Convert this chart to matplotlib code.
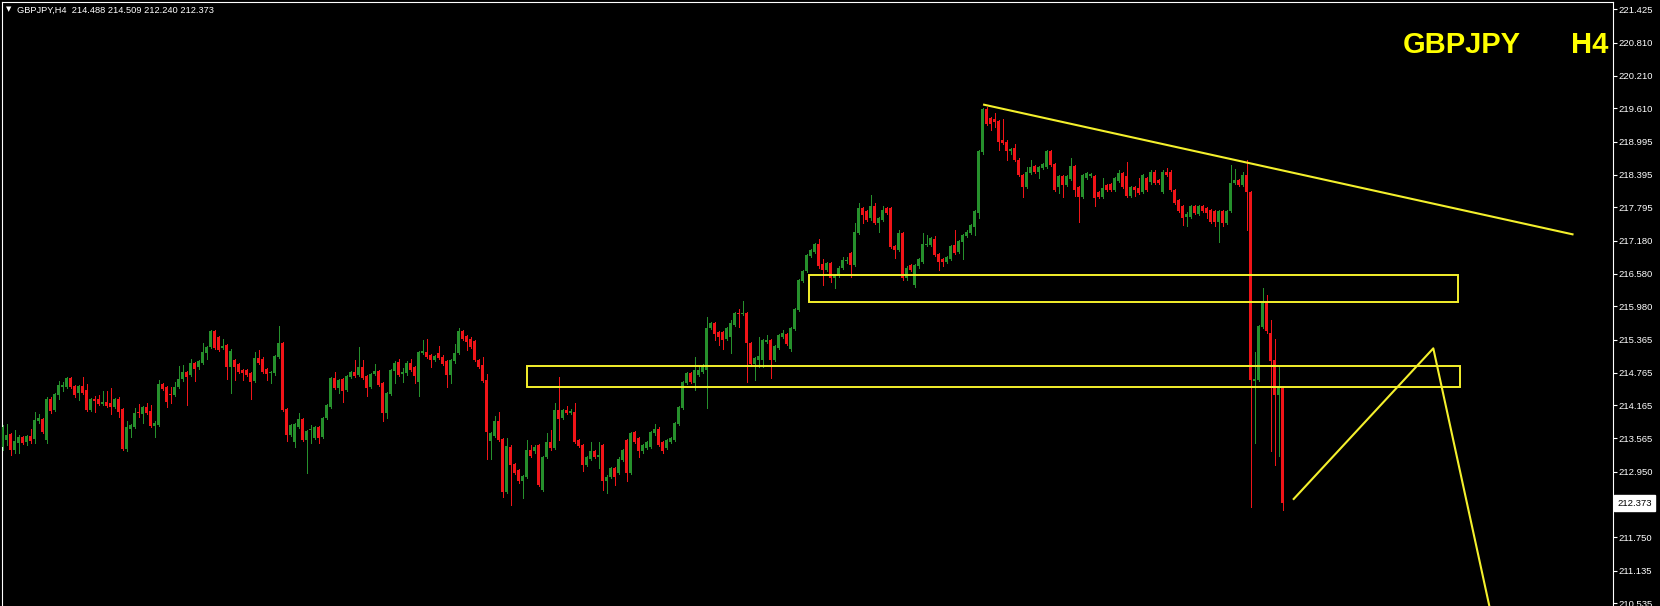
#!/usr/bin/env python3

""" plot.py - MT4 style GBPJPY H4 candle chart with two zones and trend lines """

import numpy as np
import matplotlib
matplotlib.use('Agg')
from matplotlib import pyplot as plt
from matplotlib.patches import Rectangle

symbol = 'GBPJPY'
period = 'H4'

# OHLC, bar 0 = oldest bar on screen, last = current bar
opens = [
    213.41, 213.53, 213.64, 213.35, 213.47, 213.59, 213.50, 213.60, 213.55, 213.87,
    213.91, 213.53, 214.29, 214.08, 214.36, 214.51, 214.51, 214.66, 214.52, 214.39,
    214.52, 214.45, 214.08, 214.28, 214.28, 214.19, 214.23, 214.20, 214.14, 214.29,
    214.09, 213.36, 213.74, 213.77, 214.05, 214.01, 214.13, 214.07, 213.79, 213.81,
    214.56, 214.50, 214.37, 214.36, 214.50, 214.64, 214.78, 214.72, 214.94, 214.86,
    214.95, 215.12, 215.23, 215.52, 215.42, 215.21, 215.27, 214.86, 215.00, 214.92,
    214.82, 214.81, 214.75, 214.62, 215.03, 215.01, 214.83, 214.75, 214.75, 215.06,
    215.30, 214.09, 213.62, 213.50, 213.77, 213.91, 213.53, 213.71, 213.56, 213.76,
    213.58, 213.93, 214.14, 214.66, 214.48, 214.64, 214.45, 214.69, 214.78, 214.72,
    214.87, 214.70, 214.50, 214.74, 214.80, 214.57, 214.03, 214.37, 214.79, 214.96,
    214.74, 214.75, 214.95, 214.86, 214.60, 215.12, 215.15, 215.09, 214.99, 215.12,
    215.06, 214.97, 214.72, 214.97, 215.12, 215.53, 215.44, 215.39, 215.35, 215.00,
    214.90, 214.63, 213.52, 213.60, 213.87, 213.54, 212.58, 213.41, 213.09, 212.98,
    212.77, 212.86, 213.35, 213.32, 213.44, 212.61, 213.22, 213.50, 213.38, 214.08,
    213.93, 214.08, 214.03, 214.05, 213.53, 213.44, 213.07, 213.19, 213.32, 213.22,
    213.44, 212.77, 212.86, 213.01, 212.92, 213.16, 213.53, 212.92, 213.68, 213.56,
    213.32, 213.38, 213.41, 213.65, 213.74, 213.50, 213.38, 213.50, 213.53, 213.82,
    214.11, 214.58, 214.75, 214.57, 214.72, 214.78, 214.81, 215.58, 215.67, 215.51,
    215.51, 215.39, 215.42, 215.64, 215.86, 215.84, 215.86, 215.30, 214.92, 215.00,
    215.00, 215.33, 215.36, 215.00, 215.21, 215.42, 215.47, 215.19, 215.56, 215.91,
    216.45, 216.62, 216.90, 216.98, 217.12, 216.76, 216.65, 216.78, 216.49, 216.53,
    216.68, 216.81, 216.96, 216.74, 217.32, 217.78, 217.72, 217.59, 217.81, 217.50,
    217.56, 217.78, 217.78, 217.09, 217.01, 217.32, 216.49, 216.74, 216.37, 216.71,
    216.80, 217.10, 217.10, 217.21, 216.94, 216.84, 216.80, 216.84, 217.10, 216.98,
    217.16, 217.27, 217.32, 217.44, 217.69, 218.80, 219.59, 219.43, 219.42, 219.37,
    219.03, 219.00, 218.82, 218.88, 218.67, 218.39, 218.17, 218.42, 218.55, 218.45,
    218.51, 218.54, 218.82, 218.59, 218.17, 218.37, 218.20, 218.31, 218.55, 218.17,
    217.99, 218.34, 218.37, 218.37, 218.08, 217.99, 218.20, 218.22, 218.11, 218.28,
    218.42, 218.36, 218.00, 218.17, 218.14, 218.08, 218.33, 218.25, 218.45, 218.30,
    218.08, 218.45, 218.45, 218.11, 217.93, 217.81, 217.62, 217.62, 217.81, 217.67,
    217.81, 217.78, 217.75, 217.73, 217.53, 217.73, 217.50, 217.72, 218.24, 218.30,
    218.20, 218.39, 218.08, 214.62, 214.63, 215.61, 216.04, 215.50, 214.99, 214.35,
    214.488]

highs = [
    213.81, 213.82, 213.66, 213.71, 213.62, 213.61, 213.63, 213.73, 214.05, 214.01,
    213.94, 214.31, 214.31, 214.39, 214.62, 214.60, 214.68, 214.68, 214.54, 214.54,
    214.68, 214.56, 214.30, 214.34, 214.36, 214.42, 214.42, 214.48, 214.30, 214.31,
    214.11, 213.87, 213.82, 214.11, 214.19, 214.15, 214.20, 214.17, 213.87, 214.63,
    214.58, 214.52, 214.51, 214.60, 214.89, 214.91, 214.80, 215.01, 214.96, 214.99,
    215.31, 215.26, 215.54, 215.54, 215.44, 215.38, 215.29, 215.19, 215.02, 214.94,
    214.84, 214.83, 214.77, 215.15, 215.18, 215.06, 214.85, 214.80, 215.09, 215.62,
    215.32, 214.11, 213.82, 213.84, 214.02, 213.93, 213.72, 213.80, 213.78, 213.78,
    213.95, 214.19, 214.68, 214.78, 214.65, 214.66, 214.72, 214.80, 214.99, 215.23,
    214.99, 214.72, 214.76, 214.93, 214.82, 214.59, 214.41, 214.83, 214.97, 215.01,
    214.85, 214.97, 215.01, 214.88, 215.17, 215.36, 215.38, 215.11, 215.09, 215.25,
    215.08, 214.99, 215.02, 215.29, 215.58, 215.55, 215.46, 215.41, 215.37, 215.02,
    215.06, 214.74, 213.68, 213.97, 214.05, 213.56, 213.56, 213.43, 213.11, 213.00,
    212.89, 213.53, 213.44, 213.43, 213.46, 213.24, 213.66, 213.72, 214.21, 214.69,
    214.10, 214.15, 214.09, 214.20, 213.55, 213.46, 213.24, 213.50, 213.34, 213.50,
    213.46, 212.88, 213.03, 213.03, 213.21, 213.37, 213.55, 213.67, 213.70, 213.58,
    213.46, 213.52, 213.70, 213.82, 213.76, 213.52, 213.55, 213.58, 213.86, 214.16,
    214.62, 214.77, 214.77, 215.06, 214.89, 214.92, 215.78, 215.69, 215.69, 215.53,
    215.53, 215.60, 215.73, 215.88, 215.94, 216.07, 215.88, 215.32, 215.05, 215.41,
    215.38, 215.45, 215.38, 215.27, 215.47, 215.55, 215.49, 215.60, 215.95, 216.48,
    216.65, 216.94, 217.03, 217.14, 217.21, 216.84, 216.79, 216.80, 216.57, 216.71,
    216.88, 216.88, 216.98, 217.50, 217.87, 217.80, 217.74, 218.02, 217.88, 217.61,
    217.82, 217.80, 217.80, 217.11, 217.37, 217.34, 216.71, 216.76, 216.76, 216.86,
    217.32, 217.29, 217.25, 217.27, 216.96, 216.86, 216.90, 217.11, 217.37, 217.20,
    217.31, 217.37, 217.49, 217.74, 218.84, 219.61, 219.63, 219.45, 219.53, 219.39,
    219.41, 219.02, 218.88, 218.96, 218.69, 218.41, 218.54, 218.66, 218.57, 218.55,
    218.61, 218.85, 218.85, 218.61, 218.38, 218.39, 218.38, 218.69, 218.57, 218.19,
    218.41, 218.45, 218.42, 218.39, 218.10, 218.34, 218.22, 218.24, 218.35, 218.48,
    218.44, 218.63, 218.19, 218.19, 218.33, 218.41, 218.35, 218.48, 218.48, 218.32,
    218.47, 218.51, 218.47, 218.13, 217.95, 217.83, 217.70, 217.83, 217.83, 217.84,
    217.83, 217.80, 217.77, 217.75, 217.75, 217.75, 217.74, 218.57, 218.49, 218.32,
    218.45, 218.66, 218.10, 215.15, 215.64, 216.31, 216.19, 215.73, 215.39, 214.87,
    214.509]

lows = [
    213.35, 213.44, 213.26, 213.29, 213.29, 213.45, 213.44, 213.47, 213.48, 213.84,
    213.66, 213.48, 214.03, 214.06, 214.29, 214.42, 214.49, 214.48, 214.31, 214.26,
    214.38, 214.07, 214.06, 214.05, 214.17, 214.17, 214.13, 214.01, 214.12, 213.96,
    213.35, 213.32, 213.59, 213.75, 213.95, 213.84, 214.01, 213.77, 213.59, 213.79,
    214.44, 214.14, 214.20, 214.34, 214.48, 214.62, 214.17, 214.70, 214.62, 214.84,
    214.93, 215.01, 215.21, 215.19, 215.16, 215.19, 214.64, 214.40, 214.63, 214.76,
    214.63, 214.70, 214.29, 214.60, 214.93, 214.75, 214.63, 214.58, 214.73, 215.04,
    214.06, 213.52, 213.60, 213.40, 213.75, 213.51, 212.92, 213.47, 213.54, 213.47,
    213.56, 213.91, 214.12, 214.46, 214.39, 214.23, 214.43, 214.67, 214.68, 214.70,
    214.64, 214.34, 214.48, 214.72, 214.52, 213.87, 213.93, 214.35, 214.58, 214.70,
    214.60, 214.73, 214.80, 214.58, 214.34, 215.10, 215.04, 214.87, 214.97, 215.01,
    214.90, 214.51, 214.58, 214.95, 215.10, 215.36, 215.18, 215.22, 214.97, 214.85,
    214.60, 213.19, 213.19, 213.58, 213.51, 212.49, 212.56, 212.34, 212.90, 212.75,
    212.46, 212.84, 213.21, 213.30, 212.68, 212.59, 213.20, 213.35, 213.36, 213.53,
    213.91, 214.00, 214.01, 213.48, 213.40, 212.97, 213.05, 213.17, 213.20, 213.01,
    212.61, 212.55, 212.84, 212.70, 212.90, 213.14, 212.77, 212.90, 213.48, 213.22,
    213.30, 213.36, 213.39, 213.63, 213.42, 213.29, 213.36, 213.48, 213.51, 213.80,
    214.09, 214.56, 214.58, 214.45, 214.70, 214.76, 214.11, 215.56, 215.36, 215.27,
    215.19, 215.37, 215.12, 215.62, 215.61, 215.82, 214.60, 214.90, 214.63, 214.86,
    214.86, 215.31, 214.66, 214.98, 215.19, 215.40, 215.27, 215.17, 215.54, 215.89,
    216.43, 216.60, 216.88, 216.96, 216.69, 216.37, 216.63, 216.43, 216.31, 216.51,
    216.66, 216.77, 216.52, 216.72, 217.30, 217.50, 217.54, 217.57, 217.49, 217.35,
    217.54, 217.67, 217.04, 216.86, 216.99, 216.46, 216.47, 216.63, 216.34, 216.69,
    216.78, 217.08, 217.08, 216.90, 216.65, 216.71, 216.78, 216.82, 216.94, 216.96,
    216.84, 217.25, 217.30, 217.29, 217.59, 218.78, 219.30, 219.21, 219.26, 218.85,
    218.95, 218.66, 218.77, 218.64, 218.37, 217.99, 218.15, 218.40, 218.43, 218.33,
    218.49, 218.52, 218.55, 218.09, 218.05, 217.99, 218.18, 218.29, 218.00, 217.53,
    217.97, 218.32, 218.35, 217.81, 217.97, 217.97, 218.09, 218.09, 218.09, 218.26,
    218.15, 217.98, 217.98, 218.00, 218.03, 218.06, 218.09, 218.23, 218.22, 218.22,
    218.06, 218.37, 218.09, 217.85, 217.70, 217.47, 217.45, 217.60, 217.67, 217.65,
    217.70, 217.60, 217.51, 217.45, 217.15, 217.45, 217.48, 217.70, 218.22, 218.18,
    218.18, 217.38, 212.31, 213.47, 214.61, 215.59, 215.50, 213.32, 213.07, 213.23,
    212.240]

closes = [
    213.77, 213.62, 213.35, 213.52, 213.59, 213.48, 213.60, 213.52, 213.90, 213.93,
    213.68, 214.29, 214.07, 214.37, 214.54, 214.54, 214.66, 214.50, 214.36, 214.52,
    214.40, 214.08, 214.28, 214.25, 214.19, 214.23, 214.15, 214.13, 214.28, 214.05,
    213.36, 213.76, 213.80, 214.03, 214.02, 214.13, 214.03, 213.79, 213.85, 214.56,
    214.46, 214.23, 214.36, 214.51, 214.64, 214.78, 214.69, 214.95, 214.84, 214.97,
    215.15, 215.24, 215.52, 215.21, 215.18, 215.25, 214.86, 215.17, 214.87, 214.78,
    214.76, 214.72, 214.60, 215.03, 214.95, 214.78, 214.74, 214.78, 215.07, 215.30,
    214.08, 213.62, 213.80, 213.82, 213.91, 213.53, 213.70, 213.74, 213.76, 213.56,
    213.93, 214.17, 214.66, 214.48, 214.63, 214.42, 214.70, 214.78, 214.70, 214.87,
    214.66, 214.48, 214.74, 214.80, 214.54, 214.03, 214.39, 214.81, 214.95, 214.72,
    214.78, 214.95, 214.82, 214.70, 215.15, 215.17, 215.06, 214.99, 215.07, 215.03,
    214.92, 214.72, 215.00, 215.13, 215.53, 215.38, 215.33, 215.24, 214.99, 214.87,
    214.62, 213.68, 213.66, 213.87, 213.53, 212.58, 213.42, 213.07, 212.92, 212.77,
    212.87, 213.34, 213.23, 213.41, 212.70, 213.22, 213.50, 213.38, 214.08, 213.91,
    214.08, 214.02, 214.07, 213.50, 213.42, 213.07, 213.22, 213.32, 213.22, 213.26,
    212.77, 212.86, 213.01, 212.86, 213.19, 213.35, 212.92, 213.65, 213.50, 213.32,
    213.44, 213.50, 213.68, 213.74, 213.44, 213.32, 213.53, 213.56, 213.84, 214.14,
    214.60, 214.75, 214.60, 214.81, 214.81, 214.89, 215.58, 215.67, 215.47, 215.42,
    215.36, 215.58, 215.67, 215.86, 215.84, 215.86, 215.30, 214.92, 215.03, 215.07,
    215.36, 215.37, 215.00, 215.25, 215.45, 215.50, 215.29, 215.58, 215.93, 216.46,
    216.63, 216.92, 217.01, 217.12, 216.71, 216.65, 216.77, 216.49, 216.55, 216.69,
    216.83, 216.83, 216.74, 217.35, 217.78, 217.65, 217.56, 217.81, 217.51, 217.59,
    217.75, 217.69, 217.07, 217.01, 217.32, 216.49, 216.69, 216.65, 216.74, 216.84,
    217.12, 217.13, 217.23, 216.92, 216.80, 216.80, 216.88, 217.09, 216.96, 217.18,
    217.29, 217.35, 217.47, 217.72, 218.82, 219.59, 219.33, 219.33, 219.35, 219.00,
    218.97, 218.82, 218.86, 218.66, 218.39, 218.17, 218.45, 218.54, 218.45, 218.53,
    218.59, 218.82, 218.57, 218.11, 218.36, 218.20, 218.36, 218.55, 218.11, 217.99,
    218.39, 218.42, 218.40, 217.96, 217.99, 218.14, 218.11, 218.11, 218.33, 218.42,
    218.17, 218.00, 218.17, 218.11, 218.05, 218.39, 218.11, 218.45, 218.24, 218.24,
    218.45, 218.39, 218.11, 217.87, 217.72, 217.59, 217.68, 217.81, 217.69, 217.82,
    217.72, 217.69, 217.53, 217.53, 217.73, 217.50, 217.72, 218.24, 218.30, 218.20,
    218.39, 218.08, 214.63, 214.65, 215.62, 216.04, 215.52, 214.97, 214.35, 214.51,
    212.373]

# price scale labels on the right
price_ticks = [221.425, 220.810, 220.210, 219.610, 218.995, 218.395, 217.795,
               217.180, 216.580, 215.980, 215.365, 214.765, 214.165, 213.565,
               212.950, 211.750, 211.135, 210.535]

# objects drawn on the chart, x in bars, y in price
upper_zone = (201.6, 363.9, 216.05, 216.56)    # left, right, bottom, top
lower_zone = (131.0, 364.4, 214.51, 214.89)
trend_bars = [245.4, 392.5]
trend_prices = [219.676, 217.30]
path_bars = [322.8, 357.7, 372.2]
path_prices = [212.448, 215.21, 210.32]

GREEN = '#26902c'
RED = '#f01418'
YELLOW = '#f4f02c'

W, H = 1660, 606   # output size in px (dpi 100)


def main():
    plt.rcParams['font.family'] = ['Liberation Sans', 'DejaVu Sans']

    o = np.array(opens)
    h = np.array(highs)
    l = np.array(lows)
    c = np.array(closes)

    fig = plt.figure(figsize=(W / 100, H / 100), dpi=100, facecolor='black')
    # chart window: x 1.5..1612.5 px, y 2..606 px (bottom edge cut off)
    ax = fig.add_axes([1.5 / W, 0, 1611 / W, 604 / H])
    ax.set_facecolor('black')
    ax.set_xlim(-0.25, -0.25 + 1611 / 4.0)   # 4 px per bar
    ax.set_ylim(210.486, 221.559)

    # candles: wick 1 px, body 3 px (0.75 bar), no smoothing like the terminal
    x = np.arange(len(c))
    col = [GREEN if cc >= oo else RED for oo, cc in zip(o, c)]
    ax.vlines(x, l, h, colors=col, linewidth=0.72, antialiased=False, zorder=2)
    body_lo = np.minimum(o, c)
    body_h = np.maximum(np.abs(c - o), 0.018)
    ax.bar(x, body_h, bottom=body_lo, width=0.75, color=col, linewidth=0,
           antialiased=False, zorder=3)

    # zones
    for x0, x1, b, t in (upper_zone, lower_zone):
        ax.add_patch(Rectangle((x0, b), x1 - x0, t - b, fill=False,
                               edgecolor=YELLOW, linewidth=1.4, zorder=4))

    # trend line and projected path
    ax.plot(trend_bars, trend_prices, color=YELLOW, linewidth=1.5, zorder=4)
    ax.plot(path_bars, path_prices, color=YELLOW, linewidth=1.5, zorder=4)

    # frame and price scale
    for side in ('left', 'top', 'right'):
        ax.spines[side].set_color('white')
        ax.spines[side].set_linewidth(0.8)
    ax.spines['bottom'].set_visible(False)
    ax.set_xticks([])
    ax.yaxis.tick_right()
    ax.set_yticks(price_ticks)
    ax.set_yticklabels(['%.3f' % p for p in price_ticks])
    ax.tick_params(axis='y', direction='out', length=3, width=0.8,
                   color='white', labelcolor='white', labelsize=6.8, pad=1.5)

    # current price marker
    ax.text(1.0030, c[-1], '%.3f' % c[-1], transform=ax.get_yaxis_transform(),
            ha='left', va='center', fontsize=6.8, color='black', clip_on=False,
            bbox=dict(boxstyle='square,pad=0.35', fc='white', ec='white'))

    # header line top left
    fig.text(8.5 / W, 1 - 9 / H, '\u25bc', family='DejaVu Sans', fontsize=5,
             color='white', ha='center', va='center')
    header = '%s,%s  %.3f %.3f %.3f %.3f' % (symbol, period, o[-1], h[-1], l[-1], c[-1])
    fig.text(17 / W, 1 - 13 / H, header, fontsize=6.7, color='white', va='baseline')

    # big symbol / period label
    fig.text(1403 / W, 1 - 53 / H, symbol, fontsize=21, weight='bold',
             color='#ffff00', ha='left', va='baseline')
    fig.text(1608 / W, 1 - 53 / H, period, fontsize=21, weight='bold',
             color='#ffff00', ha='right', va='baseline')

    fig.savefig('out.png', dpi=100, facecolor='black')


if __name__ == "__main__":
    main()
